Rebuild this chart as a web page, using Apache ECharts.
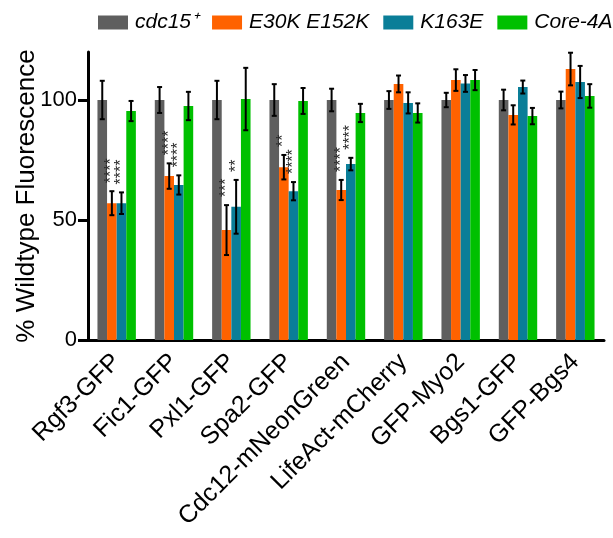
<!DOCTYPE html>
<html>
<head>
<meta charset="utf-8">
<script src="https://cdn.jsdelivr.net/npm/echarts@6/dist/echarts.min.js"></script>
<style>html,body{margin:0;padding:0;background:#fff}#c{width:613px;height:538px}</style>
</head>
<body>
<div id="c"></div>
<script>
const categories = ['Rgf3-GFP','Fic1-GFP','Pxl1-GFP','Spa2-GFP','Cdc12-mNeonGreen','LifeAct-mCherry','GFP-Myo2','Bgs1-GFP','GFP-Bgs4'];
const seriesNames = ['cdc15\u207A','E30K E152K','K163E','Core-4A'];
const wtValues   = [100, 100, 100, 100, 100, 100, 100, 100, 100];
const wtErr      = [8, 5.4, 8, 6.6, 4.7, 3.7, 3, 4.3, 3.5];
const e30kValues = [57, 68.3, 45.8, 72, 62.5, 106.7, 108.3, 93.8, 112.9];
const e30kErr    = [5, 5.3, 10.4, 5.1, 4.2, 3.5, 4.5, 4, 6.8];
const k163eValues= [57, 64.6, 55.5, 62, 73.3, 98.8, 106.9, 105.4, 107.5];
const k163eErr   = [4.5, 4, 11.2, 3.8, 2.6, 4.4, 3.5, 2.7, 6.7];
const coreValues = [95.4, 97.5, 100.4, 99.6, 94.6, 94.6, 108.3, 93.3, 101.7];
const coreErr    = [4.2, 5.9, 13, 5.4, 3.8, 4, 4.2, 3.4, 4.9];
const wtSig      = ['', '', '', '', '', '', '', '', ''];
const e30kSig    = ['****', '****', '***', '**', '****', '', '', '', ''];
const k163eSig   = ['****', '****', '**', '****', '****', '', '', '', ''];
const coreSig    = ['', '', '', '', '', '', '', '', ''];
const yTicks = [0, 50, 100];

const colors = ['#5f5f5f', '#ff6200', '#0a7e98', '#00c000'];
const FONT = "'Liberation Sans', Arial, sans-serif";
const CAT_GAP = 0.33;
const NB = 4;

const values = [wtValues, e30kValues, k163eValues, coreValues];
const errs = [wtErr, e30kErr, k163eErr, coreErr];
const sigs = [wtSig, e30kSig, k163eSig, coreSig];

function barSeries(k) {
  return {
    name: seriesNames[k], type: 'bar', data: values[k],
    barGap: '0%', barCategoryGap: (CAT_GAP*100) + '%',
    itemStyle: { color: colors[k] }, z: 2
  };
}
function errSeries(k) {
  return {
    type: 'custom', z: 5, silent: true,
    data: values[k].map((v, i) => [i, v, errs[k][i]]),
    encode: { x: 0, y: 1 },
    renderItem: function (params, api) {
      const i = api.value(0), v = api.value(1), e = api.value(2);
      const band = api.size([1, 0])[0];
      const bw = band * (1 - CAT_GAP) / NB;
      const c = api.coord([i, v]);
      const x = c[0] + (k - (NB - 1) / 2) * bw;
      const top = api.coord([i, v + e])[1];
      const bot = api.coord([i, v - e])[1];
      const cap = 2.5;
      const st = { stroke: '#000', lineWidth: 2 };
      const children = [
        { type: 'line', shape: { x1: x, y1: top, x2: x, y2: bot }, style: st },
        { type: 'line', shape: { x1: x - cap, y1: top, x2: x + cap, y2: top }, style: st },
        { type: 'line', shape: { x1: x - cap, y1: bot, x2: x + cap, y2: bot }, style: st }
      ];
      const s = sigs[k][params.dataIndex];
      if (s) {
        children.push({
          type: 'text', x: x, y: top - 8, rotation: Math.PI / 2,
          style: { text: s, fill: '#2a2a2a', font: "16px " + FONT, align: 'left', verticalAlign: 'middle' }
        });
      }
      return { type: 'group', children: children };
    }
  };
}

const chart = echarts.init(document.getElementById('c'), null, { renderer: 'canvas' });
chart.setOption({
  animation: false,
  textStyle: { fontFamily: FONT },
  legend: {
    data: seriesNames, left: 98, top: 8, width: 515, padding: [4, 0, 4, 0],
    itemWidth: 30, itemHeight: 14, itemGap: 14,
    textStyle: { fontSize: 21, fontStyle: 'italic', color: '#000', fontFamily: FONT, padding: [0, 0, 0, 2] },
    icon: 'rect'
  },
  grid: { left: 88, right: 9, top: 52, bottom: 198, containLabel: false },
  xAxis: {
    type: 'category', data: categories,
    axisLine: { lineStyle: { color: '#000', width: 3 } },
    axisTick: { alignWithLabel: true, length: 7, lineStyle: { color: '#000', width: 3 } },
    axisLabel: { rotate: 45, fontSize: 25, color: '#000', margin: 18, interval: 0, fontFamily: FONT }
  },
  yAxis: {
    type: 'value', min: 0, max: 120,
    name: '% Wildtype Fluorescence', nameLocation: 'middle', nameGap: 48, nameMoveOverlap: false,
    nameTextStyle: { fontSize: 26, color: '#000', fontFamily: FONT },
    axisLine: { show: true, lineStyle: { color: '#000', width: 3 } },
    axisTick: { show: true, length: 10, customValues: yTicks, lineStyle: { color: '#000', width: 3 } },
    axisLabel: { fontSize: 22, color: '#000', margin: 11, customValues: yTicks, fontFamily: FONT },
    splitLine: { show: false }
  },
  series: [0, 1, 2, 3].map(barSeries).concat([0, 1, 2, 3].map(errSeries))
});
</script>
</body>
</html>
